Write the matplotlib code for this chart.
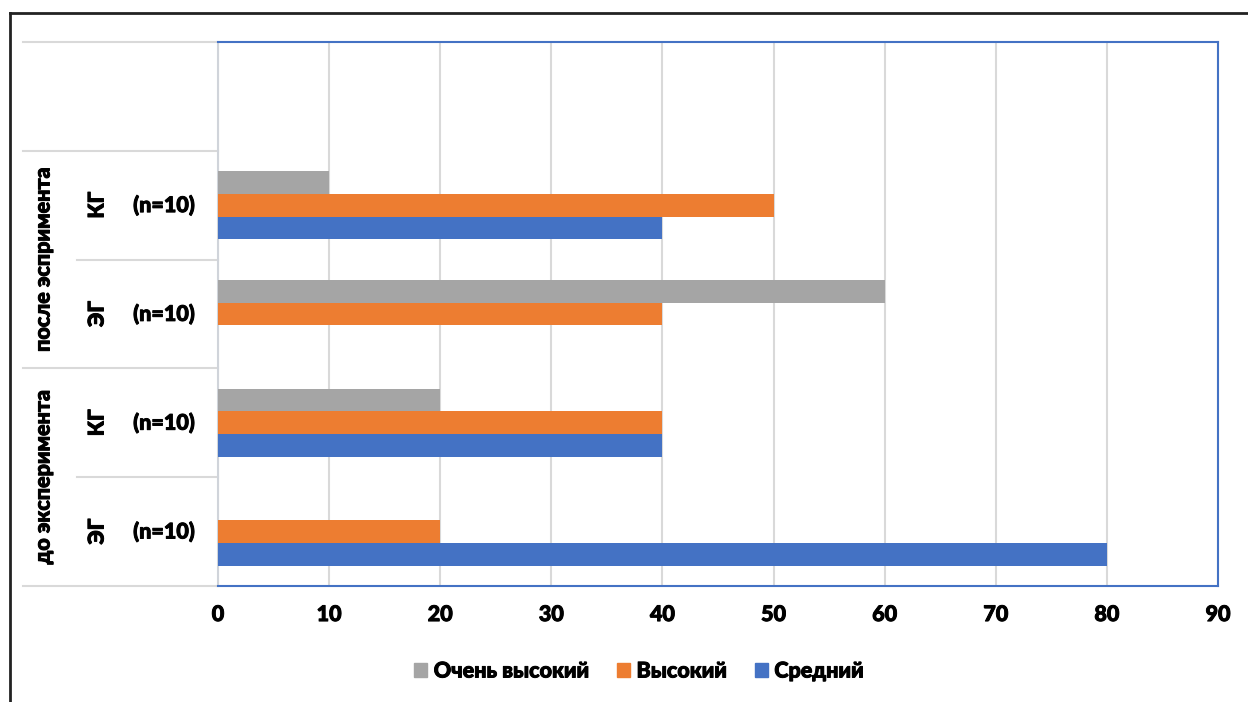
import matplotlib.pyplot as plt
from matplotlib.lines import Line2D
from matplotlib.patches import Patch
import matplotlib.patheffects as pe
import numpy as np

plt.rcParams['font.family'] = ['Lato', 'Open Sans', 'DejaVu Sans']
W8 = 900  # очень жирный шрифт
FS = 15.5
thick = [pe.withStroke(linewidth=0.7, foreground='black')]  # чуть толще, как в Excel

# данные (снизу вверх), верхняя строка пустая
inner_labels = ['(n=10)', '(n=10)', '(n=10)', '(n=10)', '']
mid_labels = ['ЭГ', 'КГ', 'ЭГ', 'КГ', '']
outer_labels = ['до эксперимента', 'после эспримента']
series = ['Средний', 'Высокий', 'Очень высокий']
srednii = [80, 40, 0, 40, 0]
vysokii = [20, 40, 40, 50, 0]
ochen_vysokii = [0, 20, 60, 10, 0]
colors = ['#4472C4', '#ED7D31', '#A5A5A5']
ticks = [0, 10, 20, 30, 40, 50, 60, 70, 80, 90]

W, H = 1248, 702
fig = plt.figure(figsize=(W / 100, H / 100), dpi=100)
ax = fig.add_axes([218 / W, (H - 586) / H, 1000 / W, 544 / H])

y = np.arange(len(inner_labels))
bh = 0.208
for i, (vals, c) in enumerate(zip([srednii, vysokii, ochen_vysokii], colors)):
    ax.barh(y + (i - 1) * bh, vals, height=bh, color=c, zorder=3)

ax.set_xlim(0, 90)
ax.set_ylim(-0.5, 4.5)
ax.set_xticks(ticks)
ax.set_yticks([])
ax.tick_params(axis='x', length=0, pad=13, labelsize=FS)
for t in ax.get_xticklabels():
    t.set_fontweight(W8)
    t.set_path_effects(thick)
ax.grid(axis='x', color='#D9D9D9', linewidth=1.5, zorder=0)
for s in ['top', 'right', 'bottom']:
    ax.spines[s].set_color('#4472C4')
    ax.spines[s].set_linewidth(1.5)
ax.spines['left'].set_color('#D0D4DA')
ax.spines['left'].set_linewidth(1.5)

# подписи категорий
tr = ax.get_yaxis_transform()
for yi in range(4):
    ax.text(-0.054, yi, inner_labels[yi], transform=tr, ha='center', va='center',
            fontsize=FS, fontweight=W8, path_effects=thick)
    ax.text(-0.121, yi, mid_labels[yi], transform=tr, ha='center', va='center',
            fontsize=FS, fontweight=W8, rotation=90, path_effects=thick)
for gi, lab in enumerate(outer_labels):
    ax.text(-0.175, 0.5 + 2 * gi, lab, transform=tr, ha='center', va='center',
            fontsize=FS, fontweight=W8, rotation=90, path_effects=thick)

# разделители
for b in [-0.5, 1.5, 3.5, 4.5]:
    ax.plot([-0.195, 0], [b, b], transform=tr, color='#D9D9D9', lw=1.5, clip_on=False)
for b in [0.5, 2.5]:
    ax.plot([-0.141, 0], [b, b], transform=tr, color='#D9D9D9', lw=1.5, clip_on=False)

# рамка
fig.add_artist(Line2D([10 / W, 1], [1 - 13 / H, 1 - 13 / H], color='#222222', lw=2))
fig.add_artist(Line2D([10 / W, 10 / W], [0, 1 - 13 / H], color='#222222', lw=2))

handles = [Patch(color=colors[2]), Patch(color=colors[1]), Patch(color=colors[0])]
leg = fig.legend(handles, ['Очень высокий', 'Высокий', 'Средний'], loc='center',
                 bbox_to_anchor=(0.512, (H - 671) / H), ncol=3, frameon=False,
                 prop={'size': FS, 'weight': W8}, handlelength=0.6, handleheight=0.6,
                 handletextpad=0.3, columnspacing=1.3)
for t in leg.get_texts():
    t.set_path_effects(thick)

fig.savefig('out.png', dpi=100)
